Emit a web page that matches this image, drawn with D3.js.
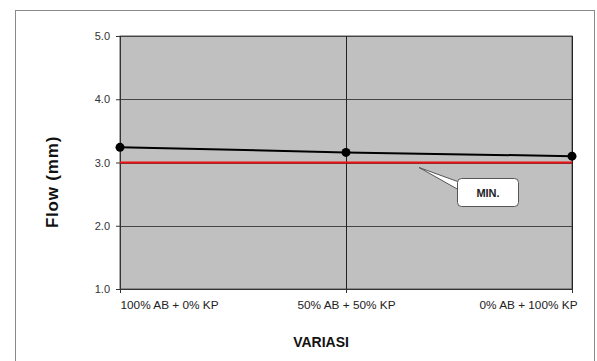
<!DOCTYPE html>
<html>
<head>
<meta charset="utf-8">
<script src="https://cdn.jsdelivr.net/npm/d3@7"></script>
<style>
  body { margin: 0; background: #fff; }
  svg { display: block; font-family: Arial, "Liberation Sans", sans-serif; }
</style>
</head>
<body>
<div id="container"></div>
<script>
var width = 597,
    height = 361;

// data
var categories = ["100% AB + 0% KP", "50% AB + 50% KP", "0% AB + 100% KP"];
var flowValues = [3.24, 3.16, 3.10];
var minFlow = 3.0;
var yTicks = [1.0, 2.0, 3.0, 4.0, 5.0];

var plot = { left: 120, top: 36, right: 572, bottom: 289 };

var svg = d3.select("#container").append("svg")
    .attr("width", width)
    .attr("height", height);

// outer chart border
svg.append("rect")
    .attr("x", 15.5).attr("y", 10.5)
    .attr("width", 579).attr("height", 370)
    .attr("fill", "#fff")
    .attr("stroke", "#8a8a8a")
    .attr("stroke-width", 1);

var x = d3.scalePoint()
    .domain(categories)
    .range([plot.left, plot.right])
    .padding(0);

var y = d3.scaleLinear()
    .domain([1, 5])
    .range([plot.bottom, plot.top]);

// plot area
svg.append("rect")
    .attr("x", plot.left).attr("y", plot.top)
    .attr("width", plot.right - plot.left)
    .attr("height", plot.bottom - plot.top)
    .attr("fill", "#c0c0c0")
    .attr("stroke", "#555")
    .attr("stroke-width", 1);

// horizontal gridlines
svg.selectAll(".hgrid")
    .data(yTicks.slice(1))
    .enter().append("line")
    .attr("class", "hgrid")
    .attr("x1", plot.left).attr("x2", plot.right)
    .attr("y1", d => Math.round(y(d)) + 0.5)
    .attr("y2", d => Math.round(y(d)) + 0.5)
    .attr("stroke", "#444")
    .attr("stroke-width", 1);

// vertical gridlines (category)
svg.selectAll(".vgrid")
    .data(categories.slice(1))
    .enter().append("line")
    .attr("class", "vgrid")
    .attr("x1", d => Math.round(x(d)) + 0.5)
    .attr("x2", d => Math.round(x(d)) + 0.5)
    .attr("y1", plot.top).attr("y2", plot.bottom + 4)
    .attr("stroke", "#222")
    .attr("stroke-width", 1);

// y axis
var yAxis = d3.axisLeft(y)
    .tickValues(yTicks)
    .tickFormat(d3.format(".1f"))
    .tickSize(4)
    .tickPadding(6);

var gy = svg.append("g")
    .attr("transform", "translate(" + plot.left + ",0)")
    .call(yAxis);
gy.select(".domain").attr("stroke", "#333");
gy.selectAll(".tick line").attr("stroke", "#333");
gy.selectAll(".tick text")
    .attr("fill", "#333")
    .style("font-size", "11px")
    .style("font-family", "Arial, 'Liberation Sans', sans-serif");

// x axis
var xAxis = d3.axisBottom(x)
    .tickSize(4)
    .tickPadding(8);

var gx = svg.append("g")
    .attr("transform", "translate(0," + plot.bottom + ")")
    .call(xAxis);
gx.select(".domain").attr("stroke", "#333");
gx.selectAll(".tick line").attr("stroke", "#333");
gx.selectAll(".tick text")
    .attr("fill", "#222")
    .style("font-size", "11.8px")
    .style("font-family", "Arial, 'Liberation Sans', sans-serif")
    .attr("text-anchor", (d, i) => i == 0 ? "start" : (i == categories.length - 1 ? "end" : "middle"))
    .attr("dx", (d, i) => i == categories.length - 1 ? 5 : 0);

// minimum line
svg.append("line")
    .attr("x1", plot.left).attr("x2", plot.right)
    .attr("y1", y(minFlow)).attr("y2", y(minFlow))
    .attr("stroke", "#ee1111")
    .attr("stroke-width", 2);

// flow line
var line = d3.line()
    .x((d, i) => x(categories[i]))
    .y(d => y(d));

svg.append("path")
    .datum(flowValues)
    .attr("d", line)
    .attr("fill", "none")
    .attr("stroke", "#000")
    .attr("stroke-width", 2);

svg.selectAll(".pt")
    .data(flowValues)
    .enter().append("circle")
    .attr("class", "pt")
    .attr("cx", (d, i) => x(categories[i]))
    .attr("cy", d => y(d))
    .attr("r", 4.5)
    .attr("fill", "#000");

// callout for minimum
var box = { x: 457, y: 178, w: 61, h: 28 };
var tip = { x: 419, y: y(minFlow) + 5 };
svg.append("path")
    .attr("d", "M" + tip.x + "," + tip.y + " L" + (box.x + 2) + "," + (box.y + 4) + " L" + (box.x + 2) + "," + (box.y + 12) + " Z")
    .attr("fill", "#fff")
    .attr("stroke", "#555")
    .attr("stroke-width", 1);
svg.append("rect")
    .attr("x", box.x + 0.5).attr("y", box.y + 0.5)
    .attr("width", box.w).attr("height", box.h)
    .attr("rx", 4).attr("ry", 4)
    .attr("fill", "#fff")
    .attr("stroke", "#555")
    .attr("stroke-width", 1);
svg.append("text")
    .attr("x", box.x + box.w / 2 + 0.5)
    .attr("y", box.y + box.h / 2 + 4.5)
    .attr("text-anchor", "middle")
    .attr("font-size", "11px")
    .attr("font-weight", "bold")
    .attr("fill", "#222")
    .text("MIN.");

// axis titles
svg.append("text")
    .attr("transform", "translate(58,182) rotate(-90)")
    .attr("text-anchor", "middle")
    .attr("font-size", "17px")
    .attr("font-weight", "bold")
    .attr("letter-spacing", "0.8px")
    .attr("fill", "#111")
    .text("Flow (mm)");

svg.append("text")
    .attr("x", 321)
    .attr("y", 347)
    .attr("text-anchor", "middle")
    .attr("font-size", "14px")
    .attr("font-weight", "bold")
    .attr("fill", "#111")
    .text("VARIASI");
</script>
</body>
</html>
